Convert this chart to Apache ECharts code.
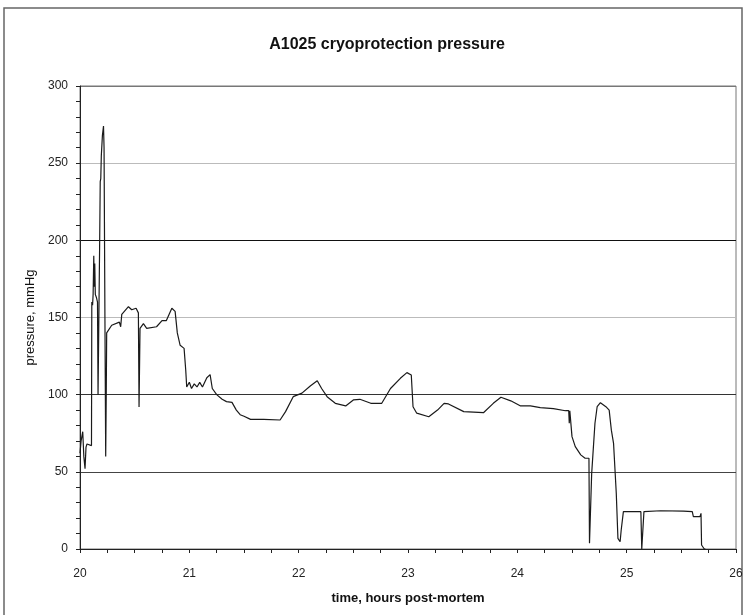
<!DOCTYPE html>
<html>
<head>
<meta charset="utf-8">
<script src="https://cdn.jsdelivr.net/npm/echarts@6/dist/echarts.min.js"></script>
<style>
    html, body { margin: 0; padding: 0; background: #fff; }
    #chart { width: 746px; height: 615px; }
</style>
</head>
<body>
<div id="chart"></div>
<script>
// time, hours post-mortem
const hours = [
    20.000, 20.010, 20.025, 20.035, 20.046, 20.055, 20.064, 20.105, 20.108, 20.115,
    20.120, 20.126, 20.130, 20.135, 20.140, 20.150, 20.160, 20.165, 20.172, 20.180,
    20.185, 20.190, 20.195, 20.205, 20.215, 20.220, 20.228, 20.235, 20.240, 20.244,
    20.290, 20.360, 20.372, 20.382, 20.443, 20.473, 20.513, 20.534, 20.540, 20.549,
    20.580, 20.610, 20.700, 20.750, 20.790, 20.840, 20.870, 20.890, 20.916, 20.952,
    20.967, 20.976, 21.000, 21.020, 21.045, 21.070, 21.095, 21.120, 21.160, 21.190,
    21.210, 21.250, 21.300, 21.340, 21.390, 21.430, 21.465, 21.500, 21.560, 21.680,
    21.830, 21.880, 21.950, 22.030, 22.106, 22.170, 22.210, 22.260, 22.335, 22.430,
    22.500, 22.560, 22.660, 22.760, 22.840, 22.930, 22.990, 23.030, 23.046, 23.080,
    23.190, 23.270, 23.330, 23.370, 23.510, 23.690, 23.780, 23.850, 23.940, 24.030,
    24.120, 24.210, 24.330, 24.440, 24.470, 24.475, 24.480, 24.500, 24.530, 24.580,
    24.620, 24.655, 24.660, 24.675, 24.680, 24.710, 24.730, 24.760, 24.810, 24.840,
    24.860, 24.880, 24.905, 24.920, 24.940, 24.950, 24.970, 25.000, 25.130, 25.138,
    25.150, 25.158, 25.310, 25.520, 25.600, 25.610, 25.670, 25.680, 25.685, 25.710,
    25.720
];
// pressure, mmHg
const pressure = [
    62, 70, 76, 60, 52, 66, 68, 67, 160, 158,
    165, 190, 170, 185, 165, 163, 160, 100, 100, 200,
    238, 240, 255, 268, 274, 260, 150, 60, 100, 140,
    145, 147, 144, 152, 157, 155, 156, 153, 92, 143,
    146, 143, 144, 148, 148, 156, 154, 140, 132, 130,
    116, 105, 108, 104, 107, 105, 108, 105, 111, 113,
    104, 100, 97, 95.5, 95, 90, 87, 86, 84, 84,
    83.6, 89, 98.7, 101, 105.6, 109, 104, 98.7, 94.4, 92.7,
    96.6, 97, 94.4, 94.4, 104, 110.6, 114.3, 112.8, 92.2, 88,
    85.7, 90, 94.4, 94, 89, 88.3, 94.4, 98.3, 96, 92.7,
    92.7, 91.6, 91, 89.6, 89.6, 81.5, 89.6, 72.8, 66.3, 61,
    58.8, 58.8, 3.7, 2.6, 49, 81.5, 92.2, 94.8, 92.2, 90,
    77, 68.5, 36, 6.9, 4.7, 12.3, 24.2, 24.2, 24.2, 0,
    0, 24.2, 24.8, 24.6, 24.2, 21, 21, 23.1, 2.6, 0,
    0
];
const yTicks = [0, 50, 100, 150, 200, 250, 300];
const xTicks = [20, 21, 22, 23, 24, 25, 26];

let chart = echarts.init(document.getElementById("chart"));

let option = {
    animation: false,
    textStyle: { fontFamily: "Liberation Sans" },
    title: {
        text: "A1025 cryoprotection pressure",
        left: 382,
        textAlign: "center",
        top: 32,
        textStyle: { fontSize: 16, fontWeight: "bold", color: "#111" }
    },
    graphic: [
        {
            type: "rect",
            shape: { x: 4, y: 8, width: 738, height: 612 },
            style: { fill: null, stroke: "#666", lineWidth: 1.5 },
            silent: true
        }
    ],
    grid: {
        left: 80,
        right: 10,
        top: 86,
        bottom: 66,
        show: true,
        borderColor: "#777",
        borderWidth: 1
    },
    xAxis: {
        type: "value",
        min: xTicks[0],
        max: xTicks[xTicks.length - 1],
        interval: 1,
        name: "time, hours post-mortem",
        nameLocation: "middle",
        nameGap: 43,
        nameTextStyle: { fontSize: 13, fontWeight: "bold", color: "#111" },
        axisLine: { onZero: false, lineStyle: { color: "#222", width: 1 } },
        axisTick: { length: 4, lineStyle: { color: "#222" } },
        minorTick: { show: true, splitNumber: 4, length: 4, lineStyle: { color: "#222" } },
        axisLabel: { fontSize: 12, color: "#222", margin: 19 },
        splitLine: { show: false }
    },
    yAxis: {
        type: "value",
        min: yTicks[0],
        max: yTicks[yTicks.length - 1],
        interval: 50,
        name: "pressure, mmHg",
        nameLocation: "middle",
        nameGap: 43,
        nameTextStyle: { fontSize: 13, color: "#111" },
        axisLine: { show: true, lineStyle: { color: "#222", width: 1 } },
        axisTick: { show: true, length: 4, lineStyle: { color: "#222" } },
        minorTick: { show: true, splitNumber: 5, length: 4, lineStyle: { color: "#222" } },
        axisLabel: { fontSize: 12, color: "#222", margin: 12 },
        splitLine: {
            show: true,
            lineStyle: {
                color: ["#222", "#444", "#333", "#bbb", "#111", "#bbb", "#777"],
                width: 1
            }
        }
    },
    series: [
        {
            name: "pressure",
            type: "line",
            data: hours.map((t, i) => [t, pressure[i]]),
            showSymbol: false,
            symbol: "none",
            lineStyle: { color: "#1a1a1a", width: 1.2 }
        }
    ]
};
chart.setOption(option);
</script>
</body>
</html>
